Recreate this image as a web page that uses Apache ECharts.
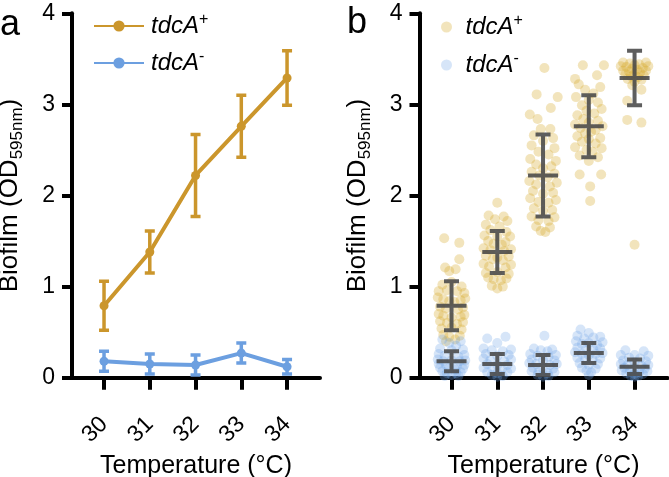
<!DOCTYPE html>
<html><head><meta charset="utf-8">
<script src="https://cdn.jsdelivr.net/npm/echarts@6/dist/echarts.min.js"></script>
<style>html,body{margin:0;padding:0;background:#fff}#c{width:669px;height:477px}</style>
</head><body><div id="c"></div>
<script>
// ---------- data ----------
const temps = [30, 31, 32, 33, 34];
const meanPlus = [0.79, 1.38, 2.22, 2.76, 3.29];
const sdPlus = [0.27, 0.23, 0.45, 0.34, 0.30];
const meanMinus = [0.18, 0.15, 0.14, 0.27, 0.12];
const sdMinus = [0.11, 0.11, 0.11, 0.11, 0.08];

// individual replicate points, [offset from temperature, OD]
const plus30 = [[-0.16,1.53],[0.17,1.48],[0.17,1.30],[-0.14,1.21],[0.09,1.19],[-0.05,1.17],
 [-0.2,1.02],[0.22,1.0],[0.0,1.05],[-0.28,0.95],[0.28,0.93],[-0.1,0.96],[0.12,0.95],
 [-0.3,0.88],[0.3,0.87],[-0.18,0.86],[0.2,0.85],[-0.05,0.84],[0.06,0.83],
 [-0.25,0.78],[0.25,0.77],[-0.12,0.76],[0.14,0.75],
 [-0.28,0.70],[0.28,0.69],[-0.18,0.68],[0.2,0.67],[0.0,0.66],
 [-0.25,0.62],[0.25,0.61],[-0.1,0.60],[0.12,0.59],
 [-0.22,0.54],[0.22,0.53],[0.0,0.55],
 [-0.18,0.47],[0.18,0.46],[-0.05,0.45],[0.08,0.42],[-0.12,0.40]];
const plus31 = [[0.0,1.92],[-0.19,1.78],[0.14,1.77],[-0.05,1.74],[0.22,1.72],[-0.25,1.68],[0.05,1.66],
 [-0.15,1.62],[0.2,1.60],[-0.28,1.56],[0.28,1.55],[0.0,1.55],
 [-0.2,1.50],[0.18,1.49],[-0.08,1.47],[0.1,1.46],
 [-0.3,1.42],[0.3,1.41],[-0.15,1.40],[0.15,1.39],
 [-0.25,1.34],[0.25,1.33],[0.0,1.32],[-0.1,1.30],[0.12,1.29],
 [-0.3,1.25],[0.3,1.24],[-0.18,1.22],[0.18,1.21],
 [-0.25,1.15],[0.25,1.14],[0.0,1.16],
 [-0.2,1.10],[0.2,1.09],[-0.08,1.08],[0.08,1.07],
 [-0.12,1.01],[0.12,1.0],[0.0,0.98]];
const plus32 = [[0.03,3.40],[-0.14,3.11],[0.32,3.08],[0.17,2.96],[-0.29,2.89],[-0.12,2.84],[-0.05,2.73],[0.16,2.73],
 [-0.2,2.66],[0.22,2.63],[0.0,2.60],[-0.25,2.55],[0.25,2.52],
 [-0.1,2.48],[0.12,2.45],[-0.28,2.40],[0.28,2.38],
 [-0.15,2.34],[0.18,2.32],[0.0,2.30],
 [-0.25,2.26],[0.25,2.24],[-0.08,2.22],[0.1,2.20],
 [-0.3,2.16],[0.3,2.14],[-0.15,2.12],[0.15,2.10],
 [-0.22,2.05],[0.22,2.03],[0.0,2.02],
 [-0.28,1.97],[0.28,1.95],[-0.1,1.93],[0.12,1.92],
 [-0.2,1.86],[0.2,1.84],[0.0,1.83],
 [-0.25,1.77],[0.25,1.76],[-0.1,1.73],[0.12,1.72],
 [-0.15,1.66],[0.15,1.65],[-0.05,1.61],[0.05,1.60]];
const plus33 = [[-0.13,3.43],[0.33,3.43],[0.18,3.32],[-0.3,3.28],[-0.22,3.22],[0.25,3.19],[-0.08,3.16],
 [0.1,3.12],[-0.28,3.08],[0.0,3.05],[0.2,3.02],[-0.15,2.99],
 [0.28,2.95],[-0.05,2.93],[0.12,2.90],[-0.25,2.88],
 [-0.12,2.84],[0.2,2.82],[0.0,2.80],[-0.3,2.78],[0.3,2.76],
 [-0.18,2.74],[0.15,2.72],[0.05,2.70],[-0.08,2.68],
 [-0.25,2.65],[0.25,2.63],[0.0,2.62],[-0.15,2.59],[0.15,2.57],
 [-0.3,2.53],[0.28,2.52],[-0.05,2.50],[0.08,2.48],
 [-0.2,2.44],[0.2,2.42],[0.0,2.38],
 [-0.2,2.23],[0.27,2.23],[0.03,2.10],[0.03,1.94]];
const plus34 = [[-0.25,3.46],[0.25,3.46],[-0.1,3.45],[0.1,3.44],[0.0,3.43],[-0.3,3.42],[0.3,3.42],
 [-0.18,3.41],[0.18,3.40],[-0.05,3.39],[0.05,3.38],[-0.25,3.37],[0.25,3.37],
 [-0.12,3.36],[0.12,3.35],[0.0,3.34],[-0.2,3.33],[0.2,3.32],
 [-0.08,3.31],[0.08,3.30],[-0.15,3.28],[0.15,3.27],[0.0,3.25],
 [-0.05,3.21],[0.15,3.16],[-0.16,3.04],[-0.16,2.83],[0.15,2.80],[0.0,1.46]];

const minus30 = [[-0.2,0.42],[0.2,0.40],[-0.05,0.38],[0.1,0.35],[-0.25,0.32],[0.25,0.31],[0.0,0.30],
 [-0.28,0.26],[0.28,0.25],[-0.15,0.24],[0.15,0.23],
 [-0.3,0.20],[0.3,0.19],[-0.18,0.18],[0.18,0.18],[0.0,0.19],
 [-0.28,0.15],[0.28,0.14],[-0.12,0.14],[0.12,0.13],
 [-0.25,0.11],[0.25,0.10],[-0.05,0.10],[0.08,0.09],
 [-0.2,0.07],[0.2,0.06],[-0.1,0.05],[0.1,0.05],[0.0,0.03],
 [-0.15,0.02],[0.15,0.02]];
const minus31 = [[0.18,0.45],[-0.22,0.43],[0.0,0.38],[-0.3,0.32],[0.3,0.31],[-0.12,0.30],[0.12,0.29],
 [-0.25,0.26],[0.25,0.25],[0.0,0.24],
 [-0.3,0.21],[0.3,0.20],[-0.15,0.19],[0.15,0.18],
 [-0.22,0.15],[0.22,0.14],[0.0,0.14],
 [-0.3,0.11],[0.3,0.10],[-0.1,0.10],[0.1,0.09],
 [-0.22,0.06],[0.22,0.06],[0.0,0.05],[-0.12,0.03],[0.12,0.02],[0.0,0.01]];
const minus32 = [[0.03,0.46],[-0.2,0.32],[0.2,0.31],[-0.05,0.30],[0.1,0.29],
 [-0.28,0.26],[0.28,0.25],[-0.12,0.24],[0.12,0.23],
 [-0.25,0.20],[0.25,0.19],[0.0,0.19],
 [-0.3,0.16],[0.3,0.15],[-0.15,0.15],[0.15,0.14],
 [-0.22,0.11],[0.22,0.10],[0.0,0.10],
 [-0.25,0.07],[0.25,0.06],[-0.1,0.06],[0.1,0.05],
 [-0.12,0.03],[0.12,0.02],[0.0,0.01]];
const minus33 = [[-0.18,0.53],[0.0,0.49],[-0.25,0.46],[0.25,0.45],[0.1,0.44],[-0.1,0.43],
 [-0.28,0.40],[0.3,0.39],[0.0,0.38],[-0.15,0.37],[0.18,0.36],
 [-0.25,0.33],[0.25,0.32],[-0.05,0.32],[0.1,0.31],
 [-0.3,0.28],[0.3,0.27],[-0.15,0.26],[0.15,0.26],[0.0,0.25],
 [-0.25,0.22],[0.25,0.21],[-0.08,0.20],[0.08,0.20],
 [-0.2,0.16],[0.2,0.15],[0.0,0.14],
 [-0.15,0.11],[0.15,0.10],[-0.05,0.08],[0.05,0.06],[0.0,0.03]];
const minus34 = [[-0.2,0.30],[0.2,0.29],[-0.3,0.25],[0.3,0.24],[0.0,0.25],[-0.12,0.22],[0.12,0.21],
 [-0.25,0.19],[0.25,0.18],[0.0,0.17],
 [-0.3,0.15],[0.3,0.14],[-0.15,0.14],[0.15,0.13],
 [-0.22,0.11],[0.22,0.10],[0.0,0.10],
 [-0.28,0.08],[0.28,0.07],[-0.1,0.07],[0.1,0.06],
 [-0.18,0.05],[0.18,0.04],[0.0,0.04],[-0.08,0.02],[0.08,0.02],[0.0,0.01]];

// ---------- styling ----------
const FONT = '"Liberation Sans", Arial, sans-serif';
const GOLD = '#CB962C', BLUE = '#6C9FE0';
const GOLD_DOT = 'rgba(214,170,48,0.40)', BLUE_DOT = 'rgba(112,166,232,0.36)';
const BAR = 'rgba(72,72,72,0.88)';

const plusPts = [plus30, plus31, plus32, plus33, plus34];
const minusPts = [minus30, minus31, minus32, minus33, minus34];
function flatten(groups) {
  const out = [];
  groups.forEach((g, i) => g.forEach(p => out.push([temps[i] + p[0], p[1]])));
  return out;
}
function summary(means, sds) { return temps.map((t, i) => [t, means[i], sds[i]]); }

function errRender(color, width, capW, meanW) {
  return function (params, api) {
    const x = api.value(0), m = api.value(1), s = api.value(2);
    const t = api.coord([x, m + s]), b = api.coord([x, Math.max(m - s, 0)]), c = api.coord([x, m]);
    let d = `M${t[0]} ${t[1]}L${b[0]} ${b[1]}` +
      `M${t[0] - capW / 2} ${t[1]}L${t[0] + capW / 2} ${t[1]}` +
      `M${b[0] - capW / 2} ${b[1]}L${b[0] + capW / 2} ${b[1]}`;
    if (meanW) d += `M${c[0] - meanW / 2} ${c[1]}L${c[0] + meanW / 2} ${c[1]}`;
    return { type: 'path', shape: { pathData: d }, style: { stroke: color, lineWidth: width, fill: null } };
  };
}

function xAxis(gi) {
  return {
    type: 'value', gridIndex: gi, min: 29.3, max: 34.72,
    axisLine: { show: true, onZero: false, lineStyle: { color: '#000', width: 4 } },
    axisTick: { show: true, customValues: temps, length: 12, lineStyle: { color: '#000', width: 4 } },
    axisLabel: { customValues: temps, rotate: 45, fontSize: 23, color: '#000', margin: 43, fontFamily: FONT,
      formatter: v => String(v) },
    splitLine: { show: false },
    name: 'Temperature (°C)', nameLocation: 'middle', nameGap: 71,
    nameTextStyle: { fontSize: 25, color: '#000', fontFamily: FONT }
  };
}
function yAxis(gi) {
  return {
    type: 'value', gridIndex: gi, min: 0, max: 4, interval: 1,
    axisLine: { show: true, onZero: false, lineStyle: { color: '#000', width: 4 } },
    axisTick: { show: true, length: 10, lineStyle: { color: '#000', width: 4 } },
    axisLabel: { fontSize: 23, color: '#000', margin: 17, fontFamily: FONT },
    splitLine: { show: false },
    name: '{a|Biofilm (OD}{s|595nm}{a|)}', nameLocation: 'middle', nameGap: 46, nameRotate: 90,
    nameTextStyle: { rich: {
      a: { fontSize: 26, fontFamily: FONT, color: '#000', lineHeight: 32 },
      s: { fontSize: 17, fontFamily: FONT, color: '#000', verticalAlign: 'bottom', lineHeight: 17 }
    } }
  };
}
const legendRich = {
  i: { fontSize: 24, fontStyle: 'italic', fontFamily: FONT, color: '#000', lineHeight: 28 },
  p: { fontSize: 16, fontFamily: FONT, color: '#000', verticalAlign: 'top', lineHeight: 16 }
};
const legendFmt = n => n.endsWith('+') ? '{i|tdcA}{p|+}' : '{i|tdcA}{p|-}';

const chart = echarts.init(document.getElementById('c'), null, { renderer: 'canvas' });
chart.setOption({
  animation: false,
  backgroundColor: '#fff',
  grid: [
    { left: 72, top: 13.3, width: 248, height: 364.4, outerBoundsMode: 'none', containLabel: false },
    { left: 419.5, top: 13.3, width: 248, height: 364.4, outerBoundsMode: 'none', containLabel: false }
  ],
  xAxis: [xAxis(0), xAxis(1)],
  yAxis: [yAxis(0), yAxis(1)],
  legend: [
    { data: ['a+', 'a-'], orient: 'vertical', left: 88, top: 7, itemWidth: 50, itemHeight: 14, itemGap: 11,
      formatter: legendFmt, textStyle: { rich: legendRich, padding: [0, 0, 0, 2] }, selectedMode: false },
    { data: ['b+', 'b-'], orient: 'vertical', left: 436, top: 8, itemWidth: 22, itemHeight: 11, itemGap: 12,
      formatter: legendFmt, textStyle: { rich: legendRich, padding: [0, 0, 0, 3] }, selectedMode: false, icon: 'circle' }
  ],
  graphic: [
    { type: 'text', left: 0, top: 7, style: { text: 'a', fontSize: 36, fontFamily: FONT, fill: '#000' } },
    { type: 'text', left: 347, top: 5, style: { text: 'b', fontSize: 36, fontFamily: FONT, fill: '#000' } }
  ],
  series: [
    { type: 'custom', xAxisIndex: 0, yAxisIndex: 0, data: summary(meanPlus, sdPlus), encode: { x: 0, y: 1 },
      renderItem: errRender(GOLD, 3.5, 10, 0), z: 3, silent: true },
    { type: 'custom', xAxisIndex: 0, yAxisIndex: 0, data: summary(meanMinus, sdMinus), encode: { x: 0, y: 1 },
      renderItem: errRender(BLUE, 3.5, 10, 0), z: 3, silent: true },
    { name: 'a+', type: 'line', xAxisIndex: 0, yAxisIndex: 0, data: temps.map((t, i) => [t, meanPlus[i]]),
      color: GOLD, lineStyle: { width: 4, color: GOLD }, symbol: 'circle', symbolSize: 9, itemStyle: { color: GOLD }, z: 4 },
    { name: 'a-', type: 'line', xAxisIndex: 0, yAxisIndex: 0, data: temps.map((t, i) => [t, meanMinus[i]]),
      color: BLUE, lineStyle: { width: 4, color: BLUE }, symbol: 'circle', symbolSize: 9, itemStyle: { color: BLUE }, z: 4 },
    { name: 'b+', type: 'scatter', xAxisIndex: 1, yAxisIndex: 1, data: flatten(plusPts),
      symbolSize: 10, itemStyle: { color: GOLD_DOT }, z: 2 },
    { name: 'b-', type: 'scatter', xAxisIndex: 1, yAxisIndex: 1, data: flatten(minusPts),
      symbolSize: 10, itemStyle: { color: BLUE_DOT }, z: 2 },
    { type: 'custom', xAxisIndex: 1, yAxisIndex: 1, data: summary(meanPlus, sdPlus), encode: { x: 0, y: 1 },
      renderItem: errRender(BAR, 4, 15, 30), z: 5, silent: true },
    { type: 'custom', xAxisIndex: 1, yAxisIndex: 1, data: summary(meanMinus, sdMinus), encode: { x: 0, y: 1 },
      renderItem: errRender(BAR, 4, 15, 30), z: 5, silent: true }
  ]
});
</script>
</body></html>
